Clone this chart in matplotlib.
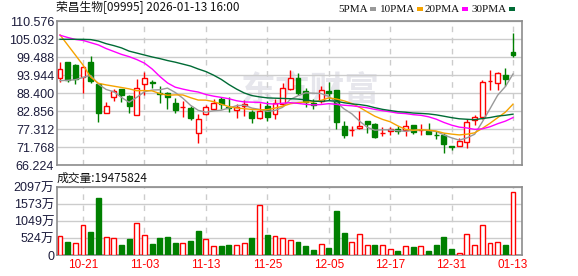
import matplotlib
matplotlib.use("Agg")
from matplotlib import pyplot as plt
from matplotlib.patches import Rectangle

# trading days shown on the chart
dates = ["10-16", "10-17", "10-20", "10-21", "10-22", "10-23", "10-24", "10-27", "10-28", "10-30",
         "10-31", "11-03", "11-04", "11-05", "11-06", "11-07", "11-10", "11-11", "11-12", "11-13",
         "11-14", "11-17", "11-18", "11-19", "11-20", "11-21", "11-24", "11-25", "11-26", "11-27",
         "11-28", "12-01", "12-02", "12-03", "12-04", "12-05", "12-08", "12-09", "12-10", "12-11",
         "12-12", "12-15", "12-16", "12-17", "12-18", "12-19", "12-22", "12-23", "12-24", "12-29",
         "12-30", "12-31", "01-02", "01-05", "01-06", "01-07", "01-08", "01-09", "01-12", "01-13"]
date_labels = ["10-21", "11-03", "11-13", "11-25", "12-05", "12-17", "12-31", "01-13"]

opens = [92.93, 97.95, 97.12, 93.42, 97.95, 91.07, 82.15, 87.07, 89.63, 87.48,
         81.53, 91.07, 91.80, 88.50, 88.50, 85.32, 83.95, 83.78, 76.00, 82.03,
         83.38, 86.55, 84.20, 83.07, 84.30, 82.64, 80.61, 84.40, 81.84, 85.00,
         89.54, 93.02, 89.02, 85.41, 85.84, 88.92, 89.32, 78.14, 77.00, 77.53,
         79.87, 78.85, 75.95, 76.70, 77.30, 77.00, 78.45, 76.95, 76.70, 75.60,
         75.37, 71.90, 72.17, 73.40, 80.00, 81.10, 92.00, 91.57, 93.94, 101.03]
closes = [95.70, 92.40, 92.62, 96.32, 92.10, 82.15, 84.30, 89.02, 87.69, 84.49,
          89.85, 92.93, 91.60, 88.10, 87.07, 83.17, 84.00, 80.70, 80.39, 84.18,
          85.32, 84.92, 83.90, 83.99, 84.92, 80.80, 82.95, 81.10, 85.23, 89.85,
          93.02, 88.49, 85.72, 84.61, 89.42, 88.49, 79.47, 75.46, 77.15, 78.24,
          78.94, 74.94, 76.05, 77.22, 76.70, 78.14, 76.29, 77.15, 75.86, 75.40,
          72.69, 71.85, 73.62, 79.37, 80.92, 91.70, 92.10, 94.47, 92.71, 100.20]
highs = [97.85, 98.00, 97.30, 96.81, 99.80, 91.10, 85.63, 89.54, 89.63, 87.70,
         92.62, 94.87, 92.40, 90.56, 88.80, 86.95, 85.94, 84.40, 81.84, 84.70,
         86.55, 87.07, 87.07, 85.00, 86.24, 83.20, 85.40, 85.94, 86.64, 91.40,
         95.50, 94.65, 90.03, 86.46, 90.46, 91.70, 89.32, 79.78, 78.24, 82.86,
         79.87, 79.07, 77.83, 78.00, 78.24, 80.08, 78.45, 78.94, 79.07, 76.70,
         76.17, 71.90, 74.45, 80.39, 81.72, 92.40, 95.50, 94.96, 96.00, 106.80]
lows = [91.90, 91.90, 91.07, 88.49, 91.40, 79.56, 82.15, 85.94, 85.72, 82.33,
        81.53, 87.78, 89.85, 85.40, 83.38, 82.33, 81.10, 80.08, 73.10, 81.60,
        83.20, 83.38, 82.64, 80.80, 81.40, 79.25, 80.40, 79.87, 80.30, 84.40,
        89.30, 87.78, 83.99, 83.38, 85.40, 86.24, 77.20, 74.45, 75.20, 77.30,
        76.17, 74.63, 75.20, 75.46, 75.67, 75.25, 75.67, 75.46, 75.67, 74.23,
        70.00, 70.84, 72.17, 71.55, 78.54, 80.39, 89.33, 89.33, 90.56, 99.58]

ma5 = [92.2, 92.3, 92.5, 93.2, 93.83, 91.12, 89.50, 88.78, 87.05, 85.53,
       87.07, 88.80, 89.31, 89.39, 89.91, 88.57, 86.79, 84.61, 83.07, 82.49,
       82.92, 83.10, 83.78, 84.50, 84.65, 83.75, 83.35, 82.75, 83.00, 83.99,
       86.43, 87.54, 88.46, 88.34, 88.25, 87.35, 85.54, 83.49, 82.00, 79.76,
       77.85, 76.95, 77.06, 77.08, 76.77, 76.61, 76.88, 77.10, 76.83, 76.57,
       75.48, 74.59, 73.88, 74.59, 75.69, 79.49, 83.54, 87.71, 90.38, 94.24]
ma10 = [106.3, 103.2, 100.1, 97.0, 93.3, 91.4, 90.9, 90.5, 90.1, 89.68,
        89.10, 89.15, 89.05, 88.22, 87.72, 87.82, 87.80, 86.96, 86.23, 86.20,
        85.75, 84.95, 84.20, 83.79, 83.57, 83.34, 83.23, 83.27, 83.75, 84.32,
        85.09, 85.45, 85.61, 85.67, 86.12, 86.89, 86.54, 85.98, 85.17, 84.01,
        82.60, 81.25, 80.28, 79.54, 78.27, 77.23, 76.92, 77.08, 76.96, 76.67,
        76.05, 75.74, 75.49, 75.71, 76.13, 77.49, 79.07, 80.80, 82.49, 84.97]
ma20 = [106.2, 105.5, 104.9, 104.6, 103.9, 103.2, 102.1, 101.2, 100.3, 99.6,
        98.7, 97.6, 95.8, 93.5, 91.5, 90.2, 89.6, 89.1, 88.7, 87.94,
        87.43, 87.05, 86.63, 86.01, 85.65, 85.58, 85.52, 85.12, 84.99, 85.26,
        85.42, 85.20, 84.91, 84.73, 84.85, 85.12, 84.89, 84.63, 84.46, 84.17,
        83.85, 83.35, 82.95, 82.61, 82.20, 82.06, 81.73, 81.53, 81.07, 80.34,
        79.33, 78.50, 77.89, 77.63, 77.20, 77.36, 78.00, 78.94, 79.73, 80.82]
ma30 = [104.94, 104.94, 104.94, 104.92, 104.85, 104.4, 103.6, 103.0, 102.3, 101.3,
        100.7, 100.1, 99.5, 99.0, 98.4, 97.9, 97.3, 96.7, 95.8, 95.0,
        93.9, 92.6, 91.0, 89.6, 88.4, 87.6, 87.2, 86.9, 86.8, 86.73,
        86.65, 86.52, 86.29, 85.89, 85.80, 86.02, 85.86, 85.40, 85.05, 84.84,
        84.48, 83.88, 83.36, 83.00, 82.65, 82.49, 82.23, 82.11, 81.96, 81.67,
        81.25, 80.81, 80.46, 80.31, 80.17, 80.54, 80.84, 81.29, 81.54, 81.88]

# volume in 万 shares
volumes = [586, 401, 361, 916, 709, 1758, 546, 515, 308, 493,
           978, 607, 339, 524, 555, 370, 361, 432, 730, 484,
           278, 278, 308, 299, 361, 524, 1533, 617, 586, 524,
           453, 401, 278, 154, 330, 216, 1357, 678, 391, 638,
           299, 308, 308, 175, 123, 278, 247, 278, 123, 308,
           555, 185, 62, 638, 308, 916, 361, 391, 308, 1947.5824]

price_ticks = [66.224, 71.768, 77.312, 82.856, 88.400, 93.944, 99.488, 105.032, 110.576]
vol_ticks = [0, 524, 1049, 1573, 2097]
vol_tick_labels = ["0", "524万", "1049万", "1573万", "2097万"]

ma_names = ["5PMA", "10PMA", "20PMA", "30PMA"]
ma_colors = ["#999999", "#f5a300", "#ff00ff", "#006b35"]

RED = "#ff0000"
GREEN = "#008000"
W, H = 578, 276
CJK = ["Noto Sans CJK SC", "DejaVu Sans"]
NUM = ["Liberation Sans", "Noto Sans CJK SC"]


def fx(px):
    return px / W


def fy(py):
    return 1 - py / H


fig = plt.figure(figsize=(W / 100, H / 100), dpi=100)
ax = fig.add_axes([fx(57), fy(165), 465 / W, 144 / H])
axv = fig.add_axes([fx(57), fy(255), 465 / W, 68 / H])

n = len(closes)
xs = list(range(n))
tick_pos = [dates.index(d) for d in date_labels]
bw = 0.64

for a in (ax, axv):
    a.set_xlim(-0.39, 60.17)
    a.set_axisbelow(True)
    a.set_xticks(tick_pos)
    a.xaxis.grid(True, color="#cccccc", lw=1, ls=(0, (4, 4)))
    a.yaxis.grid(True, color="#cccccc", lw=1, ls="-")
    a.tick_params(length=0)
    for s in a.spines.values():
        s.set_color("#8c8c8c")
        s.set_linewidth(1.2)

# watermark
ax.text(fx(310), fy(90), "东方财富", fontsize=25, fontweight="bold", color="#e6e6ec",
        family=CJK, ha="center", va="center", zorder=0.5, transform=fig.transFigure)

# candles
for i in xs:
    o, c, h, l = opens[i], closes[i], highs[i], lows[i]
    up = c >= o
    col = RED if up else GREEN
    ax.vlines(i, l, h, color=col, lw=1, zorder=2)
    ax.bar(i, max(abs(c - o), 0.12), bw, bottom=min(o, c),
           facecolor="white" if up else GREEN, edgecolor=col, lw=1, zorder=3)

for vals, col in zip([ma5, ma10, ma20, ma30], ma_colors):
    ax.plot(xs, vals, color=col, lw=1, zorder=4)

ax.set_ylim(price_ticks[0], price_ticks[-1])
ax.set_yticks(price_ticks)
ax.set_yticklabels(["%.3f" % v for v in price_ticks], fontsize=9, color="#1c1c3c", family=NUM)
ax.tick_params(axis="y", pad=2)
ax.set_xticklabels([])

# volume bars, colored by change against previous close
for i in xs:
    up = i == 0 or closes[i] >= closes[i - 1]
    col = RED if up else GREEN
    axv.bar(i, volumes[i], bw, facecolor="white" if up else GREEN,
            edgecolor=col, lw=1, zorder=3)

axv.set_ylim(0, vol_ticks[-1])
axv.set_yticks(vol_ticks)
axv.set_yticklabels(vol_tick_labels, fontsize=9, color="#1c1c3c", family=NUM)
axv.tick_params(axis="y", pad=2)
axv.set_xticklabels(date_labels, fontsize=8.5, color=RED, family=["Liberation Sans"])
axv.tick_params(axis="x", pad=3)

# header texts
fig.text(fx(56), fy(8), "荣昌生物[09995] 2026-01-13 16:00", fontsize=8.5, family=CJK,
         ha="left", va="center", color="#111111")
fig.text(fx(57), fy(178), "成交量:%d" % round(volumes[-1] * 10000), fontsize=8.5, family=CJK,
         ha="left", va="center", color="#111111")

# MA legend
legend_x = [338, 380, 425, 472]
fig.canvas.draw()
renderer = fig.canvas.get_renderer()
for name, col, lx in zip(ma_names, ma_colors, legend_x):
    t = fig.text(fx(lx), fy(9), name, fontsize=8, family=["Liberation Serif"],
                 ha="left", va="center", color="#111111")
    bb = t.get_window_extent(renderer)
    fig.patches.append(Rectangle(((bb.x1 + 2) / W, fy(11)), 6 / W, 4 / H,
                                 facecolor=col, edgecolor="none", transform=fig.transFigure))

fig.savefig("out.png", dpi=100)
